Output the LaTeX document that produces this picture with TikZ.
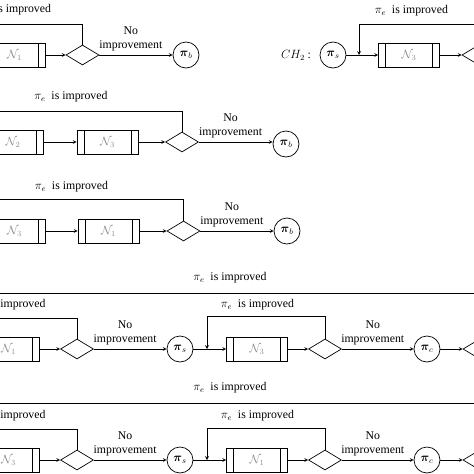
\documentclass[tikz,border=0pt]{standalone}
\usepackage{amsmath}
\usepackage{fontspec}
\setmainfont{Liberation Serif}
\usetikzlibrary{shapes.geometric}

\begin{document}
\begin{tikzpicture}[>=stealth, x=1pt, y=-1pt, line width=0.7pt,
		every node/.style={font=\fontsize{11.8}{14.5}\selectfont},
		nbox/.style={draw, rectangle, minimum width=61pt, minimum height=24pt, inner sep=0pt,
			font=\fontsize{11.8}{14}\selectfont\color{black!45},
			path picture={\draw ([xshift=7pt]path picture bounding box.north west) -- ([xshift=7pt]path picture bounding box.south west);
				\draw ([xshift=-7pt]path picture bounding box.north east) -- ([xshift=-7pt]path picture bounding box.south east);}},
		check/.style={draw, diamond, aspect=1.65, minimum width=33pt, minimum height=20pt, inner sep=0pt},
		sol/.style={draw, circle, minimum size=26pt, inner sep=0pt},
		noimp/.style={above, pos=0.43, align=center}]
		\useasboundingbox (0,0) rectangle (474,474);
		\clip (0,0) rectangle (474,474);
		% row 1, left
		\node[nbox] (b1) at (14.5,55) {$\mathcal{N}_1$};
		\node[check] (d1) at (82.5,55) {};
		\node[sol] (p1) at (186,55) {$\boldsymbol{\pi}_b$};
		\coordinate (f1) at (-20,24);
		\draw[->] (b1) -- (d1);
		\draw[->] (d1) -- node[noimp]{No\\improvement} (p1);
		\draw (d1.north) |- (f1);
		\node (t1) at (14.5,10) {$\pi_e$\enspace is improved};
		% row 1, right: CH_2
		\node (ch2) at (296,55) {$CH_2$ :};
		\node[sol] (s1) at (333,55) {$\boldsymbol{\pi}_s$};
		\node[nbox] (b1r) at (409,55) {$\mathcal{N}_3$};
		\node[check] (d1r) at (478.5,55) {};
		\coordinate (j1) at (359,55);
		\coordinate (f1r) at (490,24);
		\draw[->] (s1) -- (b1r);
		\draw[->] (b1r) -- (d1r);
		\draw[->] (f1r) -| (j1);
		\node (t1r) at (411.5,11) {$\pi_e$\enspace is improved};
		% row 2
		\node[nbox] (b2a) at (13,142) {$\mathcal{N}_2$};
		\node[nbox] (b2b) at (107.5,142) {$\mathcal{N}_3$};
		\node[check] (d2) at (182,142) {};
		\node[sol] (p2) at (286,144) {$\boldsymbol{\pi}_b$};
		\coordinate (f2) at (-20,111);
		\draw[->] (b2a) -- (b2b);
		\draw[->] (b2b) -- (d2);
		\draw[->] (d2) -- node[noimp]{No\\improvement} (p2.west |- d2);
		\draw (d2.north) |- (f2);
		\node (t2) at (71,97) {$\pi_e$\enspace is improved};
		% row 3
		\node[nbox] (b3a) at (14.5,231) {$\mathcal{N}_3$};
		\node[nbox] (b3b) at (108.5,231) {$\mathcal{N}_1$};
		\node[check] (d3) at (183.5,231) {};
		\node[sol] (p3) at (287,231) {$\boldsymbol{\pi}_b$};
		\coordinate (f3) at (-20,199);
		\draw[->] (b3a) -- (b3b);
		\draw[->] (b3b) -- (d3);
		\draw[->] (d3) -- node[noimp]{No\\improvement} (p3);
		\draw (d3.north) |- (f3);
		\node (t3) at (71.5,187) {$\pi_e$\enspace is improved};
		% row 4
		\node[nbox] (b4a) at (8.5,349) {$\mathcal{N}_1$};
		\node[check] (d4a) at (77,349) {};
		\node[sol] (s4) at (180,349) {$\boldsymbol{\pi}_s$};
		\node[nbox] (b4b) at (257,349) {$\mathcal{N}_3$};
		\node[check] (d4b) at (325,349) {};
		\node[sol] (c4) at (427,349) {$\boldsymbol{\pi}_c$};
		\node[check] (d4c) at (479.5,349) {};
		\coordinate (j4) at (207,349);
		\coordinate (f4) at (-20,318);
		\coordinate (o4l) at (-20,293);
		\coordinate (o4r) at (490,293);
		\draw[->] (b4a) -- (d4a);
		\draw[->] (d4a) -- node[noimp]{No\\improvement} (s4);
		\draw[->] (s4) -- (b4b);
		\draw[->] (b4b) -- (d4b);
		\draw[->] (d4b) -- node[noimp]{No\\improvement} (c4);
		\draw[->] (c4) -- (d4c);
		\draw (d4a.north) |- (f4);
		\draw[->] (d4b.north) -- ++(0,-22) -| (j4);
		\draw (o4l) -- (o4r);
		\node (t4o) at (230,278) {$\pi_e$\enspace is improved};
		\node (t4a) at (9,305) {$\pi_e$\enspace is improved};
		\node (t4b) at (257.5,305) {$\pi_e$\enspace is improved};
		% row 5
		\node[nbox] (b5a) at (8.5,460) {$\mathcal{N}_3$};
		\node[check] (d5a) at (77,460) {};
		\node[sol] (s5) at (180,460) {$\boldsymbol{\pi}_s$};
		\node[nbox] (b5b) at (257,460) {$\mathcal{N}_1$};
		\node[check] (d5b) at (325,460) {};
		\node[sol] (c5) at (427,460) {$\boldsymbol{\pi}_c$};
		\node[check] (d5c) at (479.5,460) {};
		\coordinate (j5) at (207,460);
		\coordinate (f5) at (-20,429);
		\coordinate (o5l) at (-20,403);
		\coordinate (o5r) at (490,403);
		\draw[->] (b5a) -- (d5a);
		\draw[->] (d5a) -- node[noimp]{No\\improvement} (s5);
		\draw[->] (s5) -- (b5b);
		\draw[->] (b5b) -- (d5b);
		\draw[->] (d5b) -- node[noimp]{No\\improvement} (c5);
		\draw[->] (c5) -- (d5c);
		\draw (d5a.north) |- (f5);
		\draw[->] (d5b.north) -- ++(0,-21) -| (j5);
		\draw (o5l) -- (o5r);
		\node (t5o) at (230,388) {$\pi_e$\enspace is improved};
		\node (t5a) at (9,416) {$\pi_e$\enspace is improved};
		\node (t5b) at (257.5,416) {$\pi_e$\enspace is improved};
\end{tikzpicture}
\end{document}
